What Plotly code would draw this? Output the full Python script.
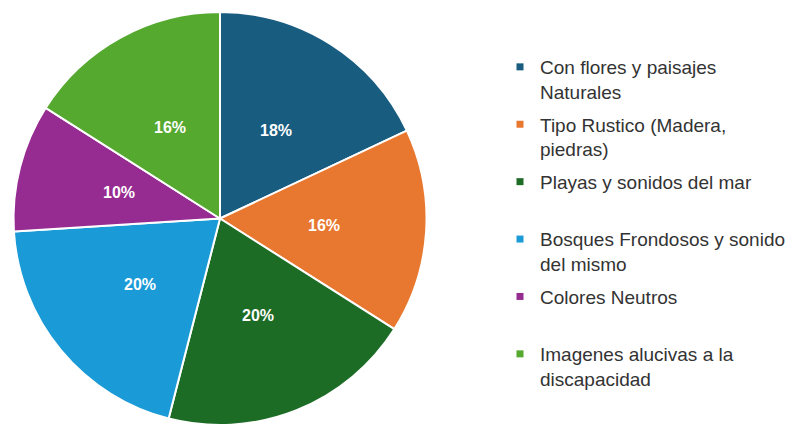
import math
import plotly.graph_objects as go

categories = [
    "Con flores y paisajes<br>Naturales",
    "Tipo Rustico (Madera,<br>piedras)",
    "Playas y sonidos del mar",
    "Bosques Frondosos y sonido<br>del mismo",
    "Colores Neutros",
    "Imagenes alucivas a la<br>discapacidad",
]
values = [18, 16, 20, 20, 10, 16]
colors = ["#185c80", "#e8772f", "#1d6c26", "#1a9ad6", "#962b91", "#55a92f"]

W, H = 798, 425
top = 12
r = (H - top) / 2
cx = 220

fig = go.Figure()
fig.add_trace(go.Pie(
    labels=categories,
    values=values,
    sort=False,
    direction="clockwise",
    rotation=0,
    marker=dict(colors=colors, line=dict(color="white", width=2)),
    textinfo="none",
    domain=dict(x=[(cx - r) / W, (cx + r) / W], y=[0, 1]),
    hoverinfo="label+percent",
    showlegend=False,
))

# legend entries (uniform two-line slots like the original)
for i, (cat, col) in enumerate(zip(categories, colors)):
    name = cat if "<br>" in cat else cat + "<br> "
    fig.add_trace(go.Scatter(
        x=[None], y=[None], mode="markers",
        marker=dict(symbol="square", size=7, color=col),
        name=name, legendgroup=str(i), showlegend=True, hoverinfo="skip",
    ))

# percentage labels at half radius along each slice bisector
total = sum(values)
cum = 0
for v in values:
    ang = math.radians((cum + v / 2) / total * 360)
    cum += v
    px = cx + 0.505 * r * math.sin(ang)
    py = top + r - 0.505 * r * math.cos(ang)
    fig.add_annotation(
        x=px / W, y=1 - (py - top) / (H - top), xref="paper", yref="paper",
        xanchor="center", yanchor="middle",
        text=f"{round(v / total * 100)}%", showarrow=False,
        font=dict(family="Liberation Sans", size=16, color="white", weight="bold"),
    )

fig.update_layout(
    width=W, height=H,
    margin=dict(l=0, r=0, t=top, b=0),
    paper_bgcolor="white",
    plot_bgcolor="white",
    xaxis=dict(visible=False),
    yaxis=dict(visible=False),
    showlegend=True,
    legend=dict(
        x=500 / W, xanchor="left",
        y=1 - 36 / (H - top), yanchor="top",
        font=dict(family="Liberation Sans", size=19, color="#333333"),
        valign="top",
        tracegroupgap=5,
        traceorder="grouped",
    ),
)

fig.write_html("out.html", config={"displayModeBar": False},
               post_script="document.body.style.margin='0';")
